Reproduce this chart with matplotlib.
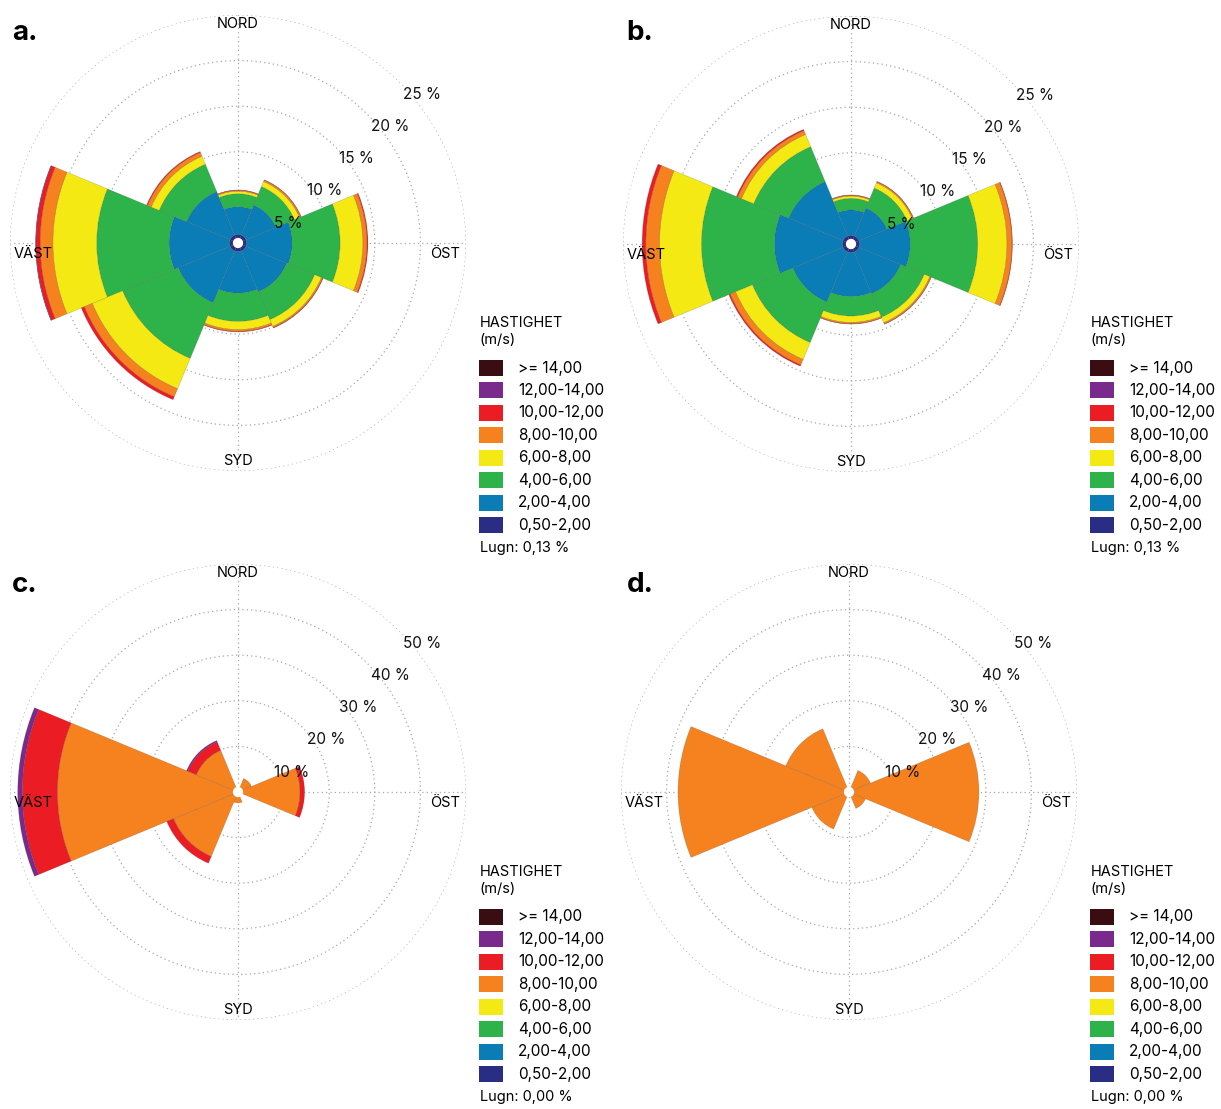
import numpy as np
import matplotlib
matplotlib.use("Agg")
import matplotlib.pyplot as plt
from matplotlib.patches import Rectangle

plt.rcParams["font.family"] = ["Inter", "DejaVu Sans"]

# wind directions (compass degrees) and speed classes
DIRECTIONS = ["N", "NE", "E", "SE", "S", "SW", "W", "NW"]
DIR_DEG = [0, 45, 90, 135, 180, 225, 270, 315]
SPEED_BINS = ["0,50-2,00", "2,00-4,00", "4,00-6,00", "6,00-8,00",
              "8,00-10,00", "10,00-12,00", "12,00-14,00", ">= 14,00"]
BIN_COLORS = ["#2a2d84", "#0b7db6", "#2db34a", "#f4e913",
              "#f5821f", "#ec1c24", "#7a2a8c", "#3a0d12"]

# frequency (%) per direction (rows) and speed class (columns)
FREQ_A = [
    [0.95, 3.03, 1.42, 0.28, 0.10, 0.04, 0.00, 0.00],
    [0.95, 3.55, 2.20, 0.60, 0.17, 0.03, 0.00, 0.00],
    [0.95, 5.00, 5.25, 2.50, 0.45, 0.10, 0.00, 0.00],
    [0.95, 4.85, 3.30, 0.80, 0.15, 0.05, 0.00, 0.00],
    [0.95, 4.55, 3.10, 0.90, 0.20, 0.05, 0.00, 0.00],
    [0.95, 6.15, 6.60, 3.60, 0.95, 0.35, 0.00, 0.00],
    [0.95, 6.60, 7.95, 4.80, 1.40, 0.45, 0.05, 0.00],
    [0.95, 5.15, 3.25, 0.95, 0.45, 0.10, 0.00, 0.00],
]
FREQ_B = [
    [0.95, 2.78, 1.27, 0.26, 0.09, 0.03, 0.00, 0.00],
    [0.95, 3.32, 2.38, 0.62, 0.13, 0.03, 0.00, 0.00],
    [0.95, 5.55, 7.40, 3.20, 0.55, 0.05, 0.00, 0.00],
    [0.95, 4.95, 2.80, 0.65, 0.15, 0.03, 0.00, 0.00],
    [0.95, 4.82, 2.13, 0.70, 0.15, 0.03, 0.00, 0.00],
    [0.95, 5.95, 4.80, 2.00, 0.65, 0.15, 0.00, 0.00],
    [0.95, 7.45, 8.00, 4.60, 1.50, 0.40, 0.00, 0.00],
    [0.95, 6.45, 4.15, 1.45, 0.45, 0.15, 0.00, 0.00],
]
FREQ_C = [
    [0.00, 0.00, 0.00, 0.00, 0.60, 0.00, 0.00, 0.00],
    [0.00, 0.00, 0.00, 0.00, 3.20, 0.00, 0.00, 0.00],
    [0.00, 0.00, 0.00, 0.00, 13.60, 1.00, 0.00, 0.00],
    [0.00, 0.00, 0.00, 0.00, 0.70, 0.00, 0.00, 0.00],
    [0.00, 0.00, 0.00, 0.00, 2.40, 0.00, 0.00, 0.00],
    [0.00, 0.00, 0.00, 0.00, 15.30, 1.60, 0.00, 0.00],
    [0.00, 0.00, 0.00, 0.00, 39.60, 7.70, 1.00, 0.00],
    [0.00, 0.00, 0.00, 0.00, 9.90, 2.00, 0.30, 0.00],
]
FREQ_D = [
    [0.00, 0.00, 0.00, 0.00, 0.50, 0.00, 0.00, 0.00],
    [0.00, 0.00, 0.00, 0.00, 5.10, 0.00, 0.00, 0.00],
    [0.00, 0.00, 0.00, 0.00, 28.50, 0.00, 0.00, 0.00],
    [0.00, 0.00, 0.00, 0.00, 3.90, 0.00, 0.00, 0.00],
    [0.00, 0.00, 0.00, 0.00, 0.60, 0.00, 0.00, 0.00],
    [0.00, 0.00, 0.00, 0.00, 8.80, 0.00, 0.00, 0.00],
    [0.00, 0.00, 0.00, 0.00, 37.50, 0.00, 0.00, 0.00],
    [0.00, 0.00, 0.00, 0.00, 15.00, 0.00, 0.00, 0.00],
]
PANELS = ["a.", "b.", "c.", "d."]
CALM = ["0,13 %", "0,13 %", "0,00 %", "0,00 %"]
RMAX = [25, 25, 50, 50]
RTICKS = [[5, 10, 15, 20, 25], [5, 10, 15, 20, 25],
          [10, 20, 30, 40, 50], [10, 20, 30, 40, 50]]

W, H = 1221, 1109
fig = plt.figure(figsize=(W / 100, H / 100), dpi=100)
fig.patch.set_facecolor("white")

RADIUS_PX = 228
centers = [(238, 243), (851, 244), (238, 792), (849, 792)]


def fx(x):
    return x / W


def fy(y):
    return 1 - y / H


def draw_rose(ax, freq, rmax, rticks):
    freq = np.array(freq)
    theta = np.deg2rad(DIR_DEG)
    width = 2 * np.pi / len(theta)
    bottom = np.zeros(len(theta))
    for k, col in enumerate(BIN_COLORS):
        vals = freq[:, k]
        m = vals > 0
        if m.any():
            ax.bar(theta[m], vals[m], width=width, bottom=bottom[m], color=col,
                   edgecolor=(0.2, 0.2, 0.2, 0.3), linewidth=0.35, zorder=2)
        bottom += vals

    ax.set_theta_zero_location("N")
    ax.set_theta_direction(-1)
    ax.set_ylim(0, rmax)
    ax.set_yticks(rticks)
    ax.set_yticklabels([])
    ax.set_xticks(np.deg2rad([0, 90, 180, 270]))
    ax.set_xticklabels([])
    ax.set_axisbelow(True)
    ax.grid(True, linestyle=(0, (1, 2.5)), color="#a8a8a8", linewidth=0.9)
    ax.spines["polar"].set_visible(False)

    for v in rticks:
        ax.annotate(f"{v} %", xy=(np.deg2rad(45), v), xytext=(3, -3.5),
                    textcoords="offset points", ha="left", va="top",
                    fontsize=11, color="#111111", zorder=4)

    ax.text(0, 0.96 * rmax, "NORD", ha="center", va="center", fontsize=10.5)
    ax.text(np.pi, 0.955 * rmax, "SYD", ha="center", va="center", fontsize=10.5)
    ax.text(np.deg2rad(93), 0.909 * rmax, "ÖST", ha="center", va="center",
            fontsize=10.5)
    ax.text(np.deg2rad(267), 0.90 * rmax, "VÄST", ha="center", va="center",
            fontsize=10.5, zorder=5)

    # white calm hole in the middle
    ax.scatter([0], [0], s=55, c="white", edgecolors="none", zorder=6)


def draw_legend(x0, y0, calm):
    fig.text(fx(x0), fy(y0), "HASTIGHET", ha="left", va="center", fontsize=10.5)
    fig.text(fx(x0), fy(y0 + 17), "(m/s)", ha="left", va="center", fontsize=10.5)
    step = 22.45
    for i, (lab, col) in enumerate(zip(SPEED_BINS[::-1], BIN_COLORS[::-1])):
        yc = y0 + 45 + i * step
        fig.add_artist(Rectangle((fx(x0 - 1), fy(yc + 8)), 24 / W, 16 / H,
                                 transform=fig.transFigure, facecolor=col,
                                 edgecolor="none"))
        fig.text(fx(x0 + 38), fy(yc), lab, ha="left", va="center", fontsize=11)
    fig.text(fx(x0), fy(y0 + 225), f"Lugn: {calm}", ha="left", va="center",
             fontsize=10.5)


freqs = [FREQ_A, FREQ_B, FREQ_C, FREQ_D]
legend_pos = [(480, 323), (1091, 323), (480, 872), (1091, 872)]
letter_pos = [(25, 33), (640, 33), (25, 585), (640, 585)]

for i in range(4):
    cx, cy = centers[i]
    rect = [fx(cx - RADIUS_PX), fy(cy + RADIUS_PX), 2 * RADIUS_PX / W, 2 * RADIUS_PX / H]
    ax = fig.add_axes(rect, projection="polar")
    draw_rose(ax, freqs[i], RMAX[i], RTICKS[i])
    draw_legend(*legend_pos[i], CALM[i])
    lx, ly = letter_pos[i]
    fig.text(fx(lx), fy(ly), PANELS[i], ha="center", va="center",
             fontsize=20, fontweight="bold")

fig.savefig("out.png", dpi=100, facecolor="white")
